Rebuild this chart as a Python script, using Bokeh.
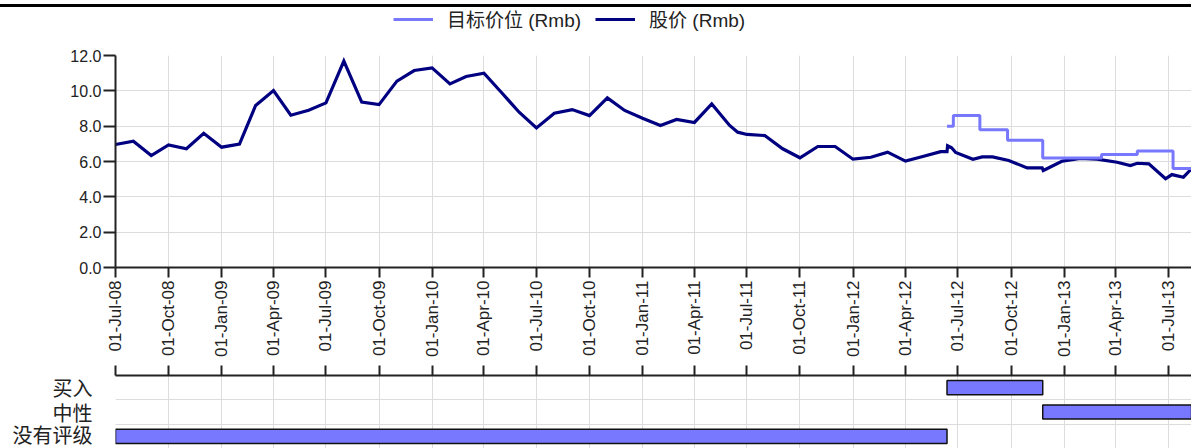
import math
import pandas as pd
from datetime import datetime
from bokeh.plotting import figure
from bokeh.models import (ColumnDataSource, Range1d, FixedTicker, DatetimeTickFormatter,
                          PrintfTickFormatter, Legend, LegendItem, Div)
from bokeh.layouts import column
from bokeh.embed import file_html
from bokeh.resources import INLINE

# ---------------- data ----------------
price_dates = [
    "2008-07-01", "2008-08-01", "2008-09-01", "2008-10-01", "2008-11-01", "2008-12-01",
    "2009-01-01", "2009-02-01", "2009-03-01", "2009-04-01", "2009-05-01", "2009-06-01",
    "2009-07-01", "2009-08-01", "2009-09-01", "2009-10-01", "2009-11-01", "2009-12-01",
    "2010-01-01", "2010-02-01", "2010-03-01", "2010-04-01", "2010-05-01", "2010-06-01",
    "2010-07-01", "2010-08-01", "2010-09-01", "2010-10-01", "2010-11-01", "2010-12-01",
    "2011-01-01", "2011-02-01", "2011-03-01", "2011-04-01", "2011-05-01", "2011-06-01",
    "2011-06-15", "2011-07-01", "2011-08-01", "2011-09-01", "2011-10-01", "2011-11-01",
    "2011-12-01", "2012-01-01", "2012-02-01", "2012-03-01", "2012-04-01", "2012-05-01",
    "2012-06-01", "2012-06-12", "2012-06-13", "2012-06-20", "2012-06-27", "2012-07-27",
    "2012-08-12", "2012-08-30", "2012-09-27", "2012-10-29", "2012-11-24", "2012-11-26",
    "2012-12-29", "2013-01-29", "2013-02-27", "2013-04-03", "2013-04-26", "2013-05-08",
    "2013-05-28", "2013-06-26", "2013-07-07", "2013-07-27", "2013-08-10",
]
price_values = [
    6.96, 7.15, 6.34, 6.94, 6.72, 7.60,
    6.81, 6.98, 9.17, 10.02, 8.62, 8.90,
    9.32, 11.68, 9.36, 9.22, 10.55, 11.15,
    11.30, 10.39, 10.81, 11.00, 9.92, 8.79,
    7.90, 8.73, 8.94, 8.60, 9.60, 8.89,
    8.45, 8.04, 8.38, 8.21, 9.26, 8.04,
    7.66, 7.53, 7.47, 6.72, 6.21, 6.85,
    6.85, 6.13, 6.24, 6.53, 6.02, 6.28,
    6.56, 6.56, 6.89, 6.78, 6.51, 6.13,
    6.26, 6.26, 6.06, 5.64, 5.64, 5.49,
    6.02, 6.17, 6.13, 5.96, 5.77, 5.90,
    5.87, 5.02, 5.26, 5.11, 5.59,
]

target_dates = ["2012-06-12", "2012-06-23", "2012-08-08", "2012-09-25", "2012-11-25",
                "2013-03-07", "2013-05-08", "2013-07-09", "2013-08-10"]
target_values = [8.0, 8.6, 7.8, 7.2, 6.2, 6.4, 6.6, 5.6, 5.6]

rating_categories = ["没有评级", "中性", "买入"]          # bottom -> top
rating_period_names = ["没有评级", "买入", "中性"]
rating_period_start = ["2008-07-01", "2012-06-12", "2012-11-25"]
rating_period_end = ["2012-06-12", "2012-11-25", "2013-08-10"]

tick_dates = ["2008-07-01", "2008-10-01", "2009-01-01", "2009-04-01", "2009-07-01",
              "2009-10-01", "2010-01-01", "2010-04-01", "2010-07-01", "2010-10-01",
              "2011-01-01", "2011-04-01", "2011-07-01", "2011-10-01", "2012-01-01",
              "2012-04-01", "2012-07-01", "2012-10-01", "2013-01-01", "2013-04-01",
              "2013-07-01"]
y_ticks = [0, 2, 4, 6, 8, 10, 12]

legend_labels = ["目标价位 (Rmb)", "股价 (Rmb)"]

x_start = datetime(2008, 7, 1)
x_end = datetime(2013, 8, 10)

# ---------------- style ----------------
NAVY = "#000080"
LIGHT = "#7878ff"
GRID = "#dcdcdc"
TXT = "#222222"
AXIS_FONT = "Liberation Sans"
CJK_FONT = "'Noto Sans CJK SC'"
LEGEND_FONT = "'Liberation Sans Narrow', 'Liberation Sans', 'Noto Sans CJK SC'"

W = 1191
tick_ms = [pd.Timestamp(d).timestamp() * 1000 for d in tick_dates]
fmt = "%d-%b-%y"
dt_formatter = DatetimeTickFormatter(milliseconds=fmt, seconds=fmt, minsec=fmt, minutes=fmt,
                                     hourmin=fmt, hours=fmt, days=fmt, months=fmt, years=fmt)

price_src = ColumnDataSource(dict(date=pd.to_datetime(price_dates), value=price_values))
target_src = ColumnDataSource(dict(date=pd.to_datetime(target_dates), value=target_values))
x_range = Range1d(start=x_start, end=x_end)

# ---------------- top rule ----------------
rule = Div(width=W, height=3, margin=(4, 0, 0, 0), styles={"background-color": "#000000"})

# ---------------- legend strip (series drawn out of its view, only keys show) ----------------
pl = figure(width=W, height=38, x_range=x_range, y_range=Range1d(100, 101),
            x_axis_type=None, y_axis_type=None, output_backend="svg", toolbar_location=None,
            min_border_left=0, min_border_right=0, min_border_top=0, min_border_bottom=0)
pl.outline_line_color = None
pl.grid.visible = False
lg_target = pl.step("date", "value", source=target_src, mode="after", line_color=LIGHT,
                    line_width=3)
lg_price = pl.line("date", "value", source=price_src, line_color=NAVY, line_width=3.2)
legend = Legend(items=[LegendItem(label=legend_labels[0], renderers=[lg_target]),
                       LegendItem(label=legend_labels[1], renderers=[lg_price])],
                orientation="horizontal", location=(278, 13), padding=0, margin=0,
                spacing=14, glyph_width=40, glyph_height=20, label_standoff=14,
                label_text_font=LEGEND_FONT, label_text_font_size="19px",
                label_text_color=TXT, border_line_color=None, background_fill_alpha=0)
pl.add_layout(legend)

# ---------------- main chart ----------------
p1 = figure(width=W, height=317, x_axis_type="datetime", x_range=x_range,
            y_range=Range1d(0, 12), output_backend="svg", toolbar_location=None,
            min_border_left=115, min_border_right=0, min_border_top=10, min_border_bottom=95)
p1.outline_line_color = None

r_price = p1.line("date", "value", source=price_src, line_color=NAVY, line_width=3.2,
                  line_join="miter")
r_target = p1.step("date", "value", source=target_src, mode="after", line_color=LIGHT,
                   line_width=3)

p1.xaxis.ticker = FixedTicker(ticks=tick_ms)
p1.xaxis.formatter = dt_formatter
p1.xaxis.major_label_orientation = math.pi / 2
p1.yaxis.ticker = FixedTicker(ticks=y_ticks)
p1.yaxis.formatter = PrintfTickFormatter(format="%.1f")
for ax in (p1.xaxis[0], p1.yaxis[0]):
    ax.axis_line_color = TXT
    ax.axis_line_width = 2
    ax.major_tick_line_color = TXT
    ax.major_tick_line_width = 2
    ax.major_tick_in = 0
    ax.minor_tick_line_color = None
    ax.major_label_text_font = AXIS_FONT
    ax.major_label_text_color = TXT
p1.xaxis.major_label_text_font_size = "17px"
p1.yaxis.major_label_text_font_size = "16px"
p1.xaxis.major_tick_out = 10
p1.xaxis.major_label_standoff = 3
p1.yaxis.major_tick_out = 12
p1.yaxis.major_label_standoff = 2

p1.xgrid.ticker = FixedTicker(ticks=tick_ms)
p1.ygrid.ticker = FixedTicker(ticks=y_ticks)
p1.xgrid.grid_line_color = GRID
p1.ygrid.grid_line_color = GRID

# ---------------- rating chart ----------------
p2 = figure(width=W, height=86, x_axis_type="datetime", x_range=x_range,
            y_range=Range1d(-0.5, 2.5), x_axis_location="above",
            output_backend="svg", toolbar_location=None,
            min_border_left=115, min_border_right=0, min_border_top=13, min_border_bottom=0)
p2.outline_line_color = None

rating_src = ColumnDataSource(dict(
    y=[rating_categories.index(n) for n in rating_period_names],
    start=pd.to_datetime(rating_period_start),
    end=pd.to_datetime(rating_period_end),
))
p2.hbar(y="y", left="start", right="end", height=0.58, source=rating_src,
        fill_color=LIGHT, line_color="#111111", line_width=1.5)

xa = p2.xaxis[0]
xa.ticker = FixedTicker(ticks=tick_ms)
xa.formatter = dt_formatter
xa.axis_line_color = TXT
xa.axis_line_width = 2
xa.major_tick_line_color = TXT
xa.major_tick_line_width = 2
xa.major_tick_in = 0
xa.major_tick_out = 10
xa.minor_tick_line_color = None
xa.major_label_text_font_size = "1px"
xa.major_label_text_color = None
xa.major_label_standoff = 0

ya = p2.yaxis[0]
ya.ticker = FixedTicker(ticks=list(range(len(rating_categories))))
ya.major_label_overrides = {i: n for i, n in enumerate(rating_categories)}
ya.axis_line_color = None
ya.major_tick_line_color = None
ya.minor_tick_line_color = None
ya.major_label_standoff = 17
ya.major_label_text_font = CJK_FONT
ya.major_label_text_font_size = "20px"
ya.major_label_text_color = TXT

p2.xgrid.ticker = FixedTicker(ticks=tick_ms)
p2.ygrid.ticker = FixedTicker(ticks=[0.5, 1.5])
p2.xgrid.grid_line_color = GRID
p2.ygrid.grid_line_color = GRID

layout = column(rule, pl, p1, p2, spacing=0)
open("out.html", "w").write(file_html(layout, INLINE))
